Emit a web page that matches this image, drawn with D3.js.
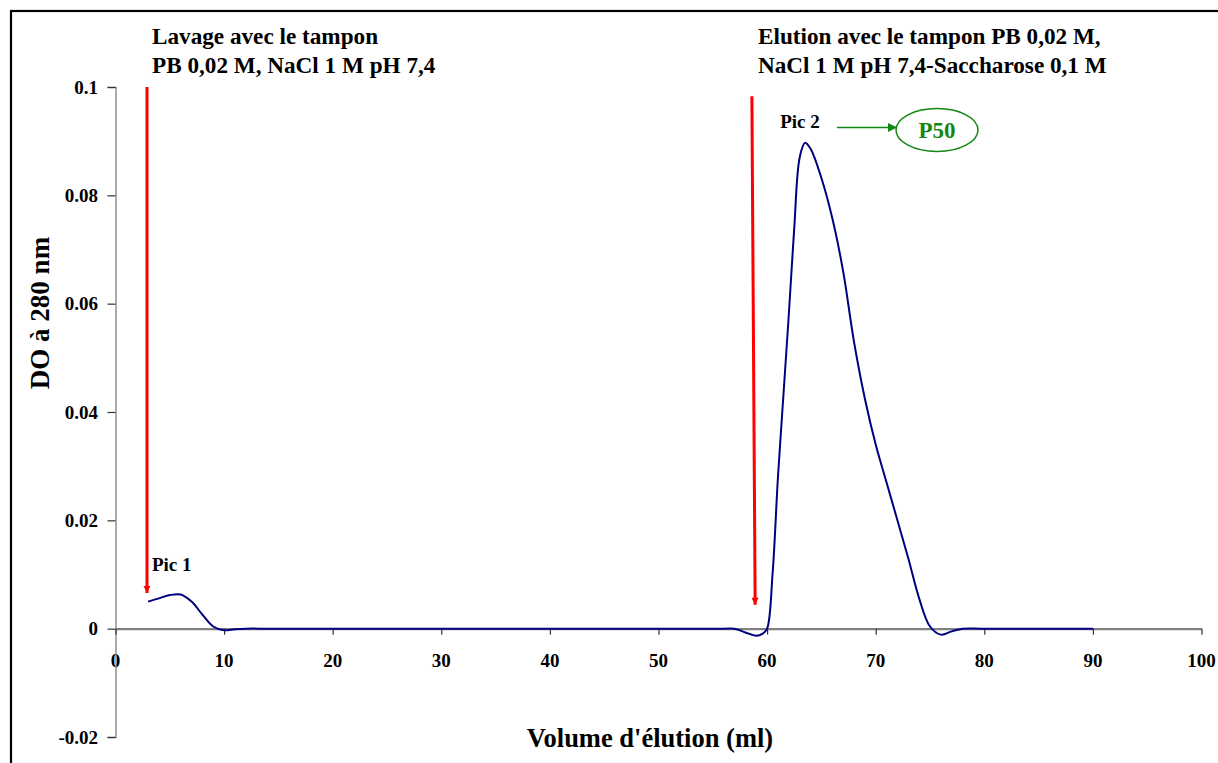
<!DOCTYPE html>
<html>
<head>
<meta charset="utf-8">
<script src="https://cdn.jsdelivr.net/npm/d3@7/dist/d3.min.js"></script>
<style>
  html, body { margin: 0; padding: 0; background: #fff; }
  svg { display: block; }
  text { font-family: "Liberation Serif", "Times New Roman", serif; font-weight: bold; }
</style>
</head>
<body>
<svg id="chart" width="1218" height="763"></svg>
<script>
// Elution volume (ml) and optical density at 280 nm
const volume = [3, 4, 5, 6, 7, 8, 9, 10, 11, 12, 14, 20, 30, 40, 50, 56, 57, 58, 59, 59.6, 60, 60.5, 61, 61.5, 62, 62.5, 63, 63.5, 64, 65, 66, 67, 68, 69, 70, 71, 72, 73, 74, 75, 76, 77, 78, 80, 85, 90];
const absorbance = [0.0050, 0.0056, 0.0062, 0.0063, 0.0050, 0.0026, 0.0004, -0.0003, -0.0001, 0, 0, 0, 0, 0, 0, 0, 0, -0.0007, -0.0013, -0.0009, 0.0000, 0.0100, 0.0280, 0.0430, 0.0580, 0.0740, 0.0870, 0.0897, 0.0886, 0.0832, 0.0758, 0.0660, 0.0530, 0.0425, 0.0340, 0.0270, 0.0200, 0.0130, 0.0056, 0.0004, -0.0011, -0.0005, 0, 0, 0, 0];

const xTicks = [0, 10, 20, 30, 40, 50, 60, 70, 80, 90, 100];
const yTicks = [-0.02, 0, 0.02, 0.04, 0.06, 0.08, 0.1];
const yTickLabels = ["-0.02", "0", "0.02", "0.04", "0.06", "0.08", "0.1"];

// Buffer change markers: [x start, y start, x tip, y tip]
const bufferArrows = [
  [2.9, 0.1, 2.9, 0.0066],
  [58.6, 0.0983, 58.9, 0.0044]
];
const peakLabels = [
  { text: "Pic 1", x: 3.35, y: 0.0106 },
  { text: "Pic 2", x: 61.2, y: 0.0925 }
];
const washText = ["Lavage avec le tampon", "PB 0,02 M, NaCl 1 M pH 7,4"];
const elutionText = ["Elution avec le tampon PB 0,02 M,", "NaCl 1 M pH 7,4-Saccharose 0,1 M"];

const svg = d3.select("#chart");

const x = d3.scaleLinear().domain([0, 100]).range([115.5, 1201.5]);
const y = d3.scaleLinear().domain([-0.02, 0.1]).range([737, 87]);

// outer frame
svg.append("rect")
  .attr("x", 11).attr("y", 11).attr("width", 1400).attr("height", 1000)
  .attr("fill", "none").attr("stroke", "#000").attr("stroke-width", 2.2);

// tick labels
svg.append("g").selectAll("text").data(yTicks).join("text")
  .attr("x", 98).attr("y", d => y(d) + 6.5)
  .attr("text-anchor", "end").attr("font-size", 19)
  .text((d, i) => yTickLabels[i]);

svg.append("g").selectAll("text").data(xTicks).join("text")
  .attr("x", d => x(d)).attr("y", y(0) + 38)
  .attr("text-anchor", "middle").attr("font-size", 19)
  .text(d => d);

// y axis
const yAxis = d3.axisLeft(y).tickValues(yTicks).tickSize(8).tickFormat("");
const gy = svg.append("g").attr("transform", `translate(${x(0)},0)`).call(yAxis);
gy.select(".domain").attr("stroke", "#808080").attr("stroke-width", 1.3);
gy.selectAll(".tick line").attr("stroke", "#333").attr("stroke-width", 1.2);

// x axis at DO = 0
const xAxis = d3.axisBottom(x).tickValues(xTicks).tickSize(6).tickSizeOuter(0).tickFormat("");
const gx = svg.append("g").attr("transform", `translate(0,${y(0)})`).call(xAxis);
gx.select(".domain").attr("stroke", "#808080").attr("stroke-width", 2.2);
gx.selectAll(".tick line").attr("stroke", "#333").attr("stroke-width", 1.2);

// axis titles
svg.append("text")
  .attr("x", 650).attr("y", 747)
  .attr("text-anchor", "middle").attr("font-size", 26.5)
  .text("Volume d'élution (ml)");

svg.append("text")
  .attr("transform", "translate(49,313) rotate(-90)")
  .attr("text-anchor", "middle").attr("font-size", 27)
  .text("DO à 280 nm");

// elution profile
const pts = volume.map((v, i) => [v, absorbance[i]]);
const line = d3.line().x(d => x(d[0])).y(d => y(d[1])).curve(d3.curveCatmullRom.alpha(0.5));
svg.append("path").datum(pts)
  .attr("d", line)
  .attr("fill", "none").attr("stroke", "#000080").attr("stroke-width", 2);

// arrow heads
const defs = svg.append("defs");
defs.append("marker").attr("id", "redHead")
  .attr("viewBox", "0 0 10 10").attr("refX", 10).attr("refY", 5)
  .attr("markerUnits", "userSpaceOnUse")
  .attr("markerWidth", 16).attr("markerHeight", 7).attr("orient", "auto")
  .append("path").attr("d", "M0,0 L10,5 L0,10 Z").attr("fill", "#ff0000");
defs.append("marker").attr("id", "greenHead")
  .attr("viewBox", "0 0 10 10").attr("refX", 10).attr("refY", 5)
  .attr("markerUnits", "userSpaceOnUse")
  .attr("markerWidth", 10).attr("markerHeight", 9).attr("orient", "auto")
  .append("path").attr("d", "M0,0 L10,5 L0,10 Z").attr("fill", "#118811");

svg.append("g").selectAll("line").data(bufferArrows).join("line")
  .attr("x1", d => x(d[0])).attr("y1", d => y(d[1]))
  .attr("x2", d => x(d[2])).attr("y2", d => y(d[3]))
  .attr("stroke", "#ff0000").attr("stroke-width", 3)
  .attr("marker-end", "url(#redHead)");

// peak labels
svg.append("g").selectAll("text").data(peakLabels).join("text")
  .attr("x", d => x(d.x)).attr("y", d => y(d.y))
  .attr("font-size", 19)
  .text(d => d.text);

// buffer descriptions
svg.append("text").attr("font-size", 23.2)
  .selectAll("tspan").data(washText).join("tspan")
  .attr("x", 152).attr("y", (d, i) => 44 + i * 28.5)
  .text(d => d);
svg.append("text").attr("font-size", 23.2)
  .selectAll("tspan").data(elutionText).join("tspan")
  .attr("x", 758).attr("y", (d, i) => 44 + i * 28.5)
  .text(d => d);

// fraction tag P50
svg.append("line")
  .attr("x1", 837).attr("y1", 127.5).attr("x2", 897).attr("y2", 127.5)
  .attr("stroke", "#118811").attr("stroke-width", 1.6)
  .attr("marker-end", "url(#greenHead)");
svg.append("ellipse")
  .attr("cx", 937).attr("cy", 130).attr("rx", 41).attr("ry", 21.5)
  .attr("fill", "none").attr("stroke", "#118811").attr("stroke-width", 1.5);
svg.append("text")
  .attr("x", 937).attr("y", 138).attr("text-anchor", "middle")
  .attr("font-size", 23).attr("fill", "#118811")
  .text("P50");
</script>
</body>
</html>
